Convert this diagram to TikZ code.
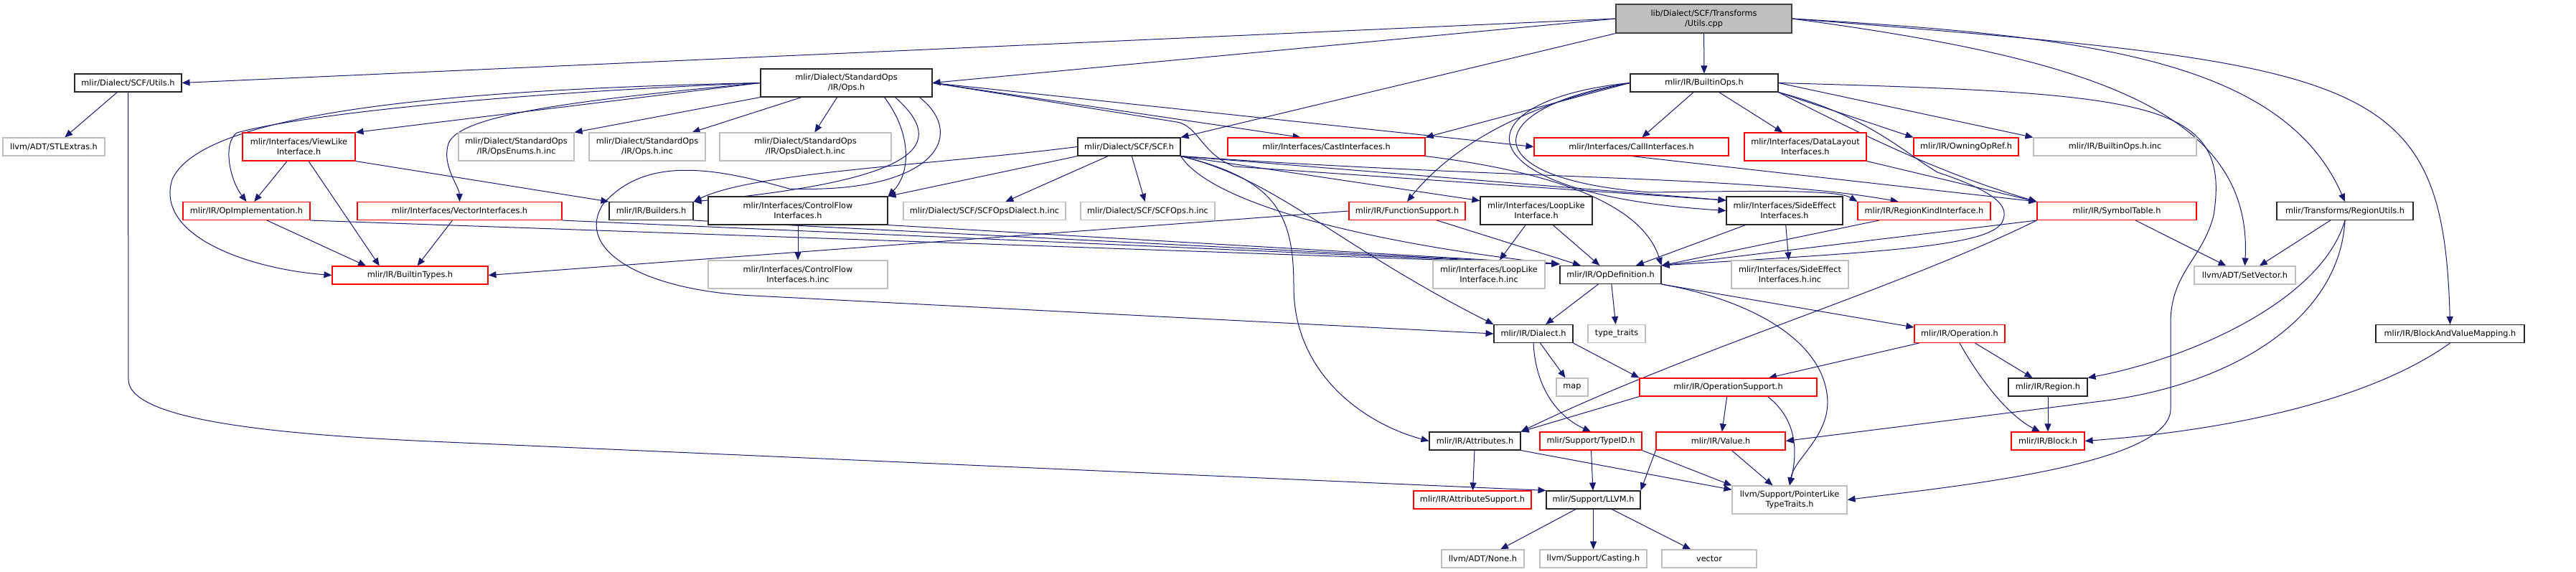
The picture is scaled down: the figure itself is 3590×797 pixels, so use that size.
\documentclass[tikz,border=0pt]{standalone}
\usepackage{fontspec}
\setmainfont{DejaVu Sans}
\usetikzlibrary{arrows.meta}
\definecolor{depblue}{RGB}{25,25,112}
\definecolor{extgray}{RGB}{191,191,191}
\pgfdeclarelayer{background}
\pgfsetlayers{background,main}

\begin{document}
\begin{tikzpicture}[x=1pt,y=-1pt,
every node/.style={rectangle,inner sep=0pt,align=center,fill=white,
  font=\fontsize{11.3}{14}\selectfont},
hdr/.style={draw=black!85,line width=1.1pt},
trunc/.style={draw=red,line width=1.1pt},
ext/.style={draw=extgray,line width=1.1pt},
rootfile/.style={draw=black!75,fill=extgray,line width=1.1pt},
one/.style={minimum height=25pt},
two/.style={minimum height=39pt},
wd/.style={minimum width=#1pt},
dep/.style={draw=depblue,line width=1pt,-{Triangle[length=11pt,width=9pt]}}]
\useasboundingbox (0,0) rectangle (3590,797);

\node[rootfile,wd=245,minimum height=40pt] (root) at (2374.5,26) {lib/Dialect/SCF/Transforms\\/Utils.cpp};

\node[hdr,one,wd=149] (scfutils) at (178.5,115.5) {mlir/Dialect/SCF/Utils.h};
\node[hdr,two,wd=239] (stdops) at (1179.5,115.5) {mlir/Dialect/StandardOps\\/IR/Ops.h};
\node[hdr,one,wd=206] (builtinops) at (2375,115.5) {mlir/IR/BuiltinOps.h};

\node[ext,one,wd=142] (stlextras) at (75,204.5) {llvm/ADT/STLExtras.h};
\node[trunc,two,wd=157] (viewlike) at (416.5,204.5) {mlir/Interfaces/ViewLike\\Interface.h};
\node[ext,two,wd=161] (opsenums) at (719.5,204.5) {mlir/Dialect/StandardOps\\/IR/OpsEnums.h.inc};
\node[ext,two,wd=162] (opsinc) at (902,204.5) {mlir/Dialect/StandardOps\\/IR/Ops.h.inc};
\node[ext,two,wd=239] (opsdialect) at (1122.5,204.5) {mlir/Dialect/StandardOps\\/IR/OpsDialect.h.inc};
\node[hdr,one,wd=143] (scf) at (1573.5,204.5) {mlir/Dialect/SCF/SCF.h};
\node[trunc,one,wd=275] (castif) at (1848.5,204.5) {mlir/Interfaces/CastInterfaces.h};
\node[trunc,one,wd=271] (callif) at (2273.5,204.5) {mlir/Interfaces/CallInterfaces.h};
\node[trunc,two,wd=170] (datalayout) at (2516,204.5) {mlir/Interfaces/DataLayout\\Interfaces.h};
\node[trunc,one,wd=146] (owningop) at (2740,204.5) {mlir/IR/OwningOpRef.h};
\node[ext,one,wd=227] (builtinopsinc) at (2947.5,204.5) {mlir/IR/BuiltinOps.h.inc};

\node[trunc,one,wd=177] (opimpl) at (343.5,294) {mlir/IR/OpImplementation.h};
\node[trunc,one,wd=285] (vectorif) at (640.5,294) {mlir/Interfaces/VectorInterfaces.h};
\node[hdr,one,wd=117] (builders) at (907.5,294) {mlir/IR/Builders.h};
\node[hdr,two,wd=250] (cflow) at (1112,293.5) {mlir/Interfaces/ControlFlow\\Interfaces.h};
\node[ext,one,wd=226] (scfdialect) at (1372,294) {mlir/Dialect/SCF/SCFOpsDialect.h.inc};
\node[ext,one,wd=187] (scfopsinc) at (1599.5,294) {mlir/Dialect/SCF/SCFOps.h.inc};
\node[trunc,one,wd=162] (funcsupport) at (1961,294) {mlir/IR/FunctionSupport.h};
\node[hdr,two,wd=156] (looplike) at (2141,293.5) {mlir/Interfaces/LoopLike\\Interface.h};
\node[hdr,two,wd=162] (sideeffect) at (2487,293.5) {mlir/Interfaces/SideEffect\\Interfaces.h};
\node[trunc,one,wd=185] (regionkind) at (2681.5,294) {mlir/IR/RegionKindInterface.h};
\node[trunc,one,wd=222] (symtable) at (2950,294) {mlir/IR/SymbolTable.h};
\node[hdr,one,wd=190] (regionutils) at (3268,294) {mlir/Transforms/RegionUtils.h};

\node[trunc,one,wd=217] (builtintypes) at (571.5,383.5) {mlir/IR/BuiltinTypes.h};
\node[ext,two,wd=250] (cflowinc) at (1112,382.5) {mlir/Interfaces/ControlFlow\\Interfaces.h.inc};
\node[ext,two,wd=156] (looplikeinc) at (2075,382.5) {mlir/Interfaces/LoopLike\\Interface.h.inc};
\node[hdr,one,wd=141] (opdef) at (2244.5,383) {mlir/IR/OpDefinition.h};
\node[ext,two,wd=163] (sideeffectinc) at (2494.5,382.5) {mlir/Interfaces/SideEffect\\Interfaces.h.inc};
\node[ext,one,wd=141] (setvector) at (3128.5,383.5) {llvm/ADT/SetVector.h};

\node[hdr,one,wd=110] (dialect) at (2137,465) {mlir/IR/Dialect.h};
\node[ext,one,wd=80] (typetraits) at (2253,465) {type\_traits};
\node[trunc,one,wd=126] (operation) at (2731,465) {mlir/IR/Operation.h};
\node[hdr,one,wd=207] (bvmapping) at (3414.5,465) {mlir/IR/BlockAndValueMapping.h};

\node[ext,one,wd=44] (map) at (2191,539.5) {map};
\node[trunc,one,wd=247] (opsupport) at (2408.5,539.5) {mlir/IR/OperationSupport.h};
\node[hdr,one,wd=110] (region) at (2854,539.5) {mlir/IR/Region.h};

\node[hdr,one,wd=127] (attributes) at (2055.5,614.5) {mlir/IR/Attributes.h};
\node[trunc,one,wd=142] (typeid) at (2217,614.5) {mlir/Support/TypeID.h};
\node[trunc,one,wd=180] (value) at (2398,614.5) {mlir/IR/Value.h};
\node[trunc,one,wd=102] (block) at (2854,614.5) {mlir/IR/Block.h};

\node[trunc,one,wd=164] (attrsupport) at (2052,696.5) {mlir/IR/AttributeSupport.h};
\node[hdr,one,wd=131] (llvm) at (2220.5,696.5) {mlir/Support/LLVM.h};
\node[ext,two,wd=160] (pointerlike) at (2494,696.5) {llvm/Support/PointerLike\\TypeTraits.h};

\node[ext,one,wd=115] (none) at (2066.5,778.5) {llvm/ADT/None.h};
\node[ext,one,wd=149] (casting) at (2220.5,778.5) {llvm/Support/Casting.h};
\node[ext,one,wd=132] (vector) at (2382,778.5) {vector};

\begin{pgfonlayer}{background}
\draw[dep] (root.west) -- (scfutils.east);
\draw[dep] (root.west) -- (stdops.east);
\draw[dep] (root.south west) -- (scf.north east);
\draw[dep] (root) -- (builtinops);
\draw[dep] (root.east) .. controls (2900,50) and (3180,80) .. (regionutils.north);
\draw[dep] (root.east) .. controls (2900,80) and (3140,150) .. (setvector.north);
\draw[dep] (root.east) .. controls (3300,90) and (3405,100) .. (bvmapping.north);

\draw[dep] (scfutils) -- (stlextras);
\draw[dep] (scfutils.south) -- (179,530) .. controls (182,585) and (380,605) .. (600,615) -- (llvm.north west);

\draw[dep] (stdops.west) -- (viewlike.north east);
\draw[dep] (stdops.west) .. controls (700,130) and (420,160) .. (330,185) .. controls (310,200) and (320,250) .. (opimpl.north);
\draw[dep] (stdops.west) .. controls (600,125) and (280,160) .. (240,250) .. controls (215,330) and (350,375) .. (builtintypes.west);
\draw[dep] (stdops.south west) -- (opsenums.north east);
\draw[dep] (stdops) -- (opsinc);
\draw[dep] (stdops) -- (opsdialect);
\draw[dep] (stdops.west) .. controls (800,140) and (640,160) .. (625,200) .. controls (615,230) and (640,260) .. (vectorif.north);
\draw[dep] ([xshift=68pt]stdops.south) .. controls (1320,200) and (1290,250) .. (builders.north east);
\draw[dep] ([xshift=53pt]stdops.south) .. controls (1270,185) and (1270,240) .. (cflow.north east);
\draw[dep] ([xshift=102pt]stdops.south) .. controls (1350,190) and (1300,270) .. (1100,263) .. controls (1000,235) and (900,215) .. (840,285) .. controls (800,350) and (900,405) .. (1050,412) -- (dialect.west);
\draw[dep] (stdops.east) -- (castif.160);
\draw[dep] (stdops.east) -- (callif.west);
\draw[dep] (stdops.east) -- (1640,170) .. controls (1670,175) and (1675,215) .. (1720,232) -- (sideeffect.170);

\draw[dep] (viewlike) -- (opimpl);
\draw[dep] (viewlike) -- (builtintypes.163);
\draw[dep] (viewlike.south east) -- (builders.north west);

\draw[dep] (opimpl) -- (builtintypes.168);
\draw[dep] (opimpl.south east) -- ([yshift=2pt]opdef.north west);
\draw[dep] (vectorif) -- (builtintypes);
\draw[dep] (vectorif.south east) -- ([yshift=2pt]opdef.north west);
\draw[dep] (builders.south east) -- ([yshift=2pt]opdef.north west);
\draw[dep] (cflow) -- (cflowinc);
\draw[dep] (cflow.south east) -- ([yshift=2pt]opdef.north west);

\draw[dep] (scf.west) .. controls (1300,230) and (1050,240) .. (builders.north east);
\draw[dep] (scf.south west) -- (cflow.north east);
\draw[dep] (scf) -- (scfdialect);
\draw[dep] (scf) -- (scfopsinc);
\draw[dep] (scf.south east) -- (looplike.170);
\draw[dep] (scf.south east) -- (sideeffect.170);
\draw[dep] (scf.south east) .. controls (2100,250) and (2450,245) .. (regionkind.160);
\draw[dep] (scf.south east) .. controls (1700,300) and (2000,350) .. ([yshift=2pt]opdef.north west);
\draw[dep] (scf.south east) .. controls (1780,250) and (1803,300) .. (1803,400) .. controls (1803,520) and (1900,590) .. (attributes.west);
\draw[dep] (scf.south east) .. controls (1780,250) and (1860,340) .. (dialect.north west);

\draw[dep] (castif.south east) .. controls (2250,250) and (2300,320) .. (opdef.north east);
\draw[dep] (callif.south) -- (symtable.north west);
\draw[dep] (datalayout.south east) -- (symtable.north west);

\draw[dep] (builtinops.west) -- (castif.north east);
\draw[dep] (builtinops) -- (callif);
\draw[dep] (builtinops) -- (datalayout);
\draw[dep] (builtinops.south east) -- (owningop.north west);
\draw[dep] (builtinops.east) -- (builtinopsinc.north west);
\draw[dep] (builtinops.west) .. controls (2100,150) and (2010,220) .. (funcsupport.north);
\draw[dep] (builtinops.west) .. controls (2030,140) and (2030,270) .. (sideeffect.west);
\draw[dep] (builtinops.west) .. controls (2060,150) and (2050,250) .. (2300,268) .. controls (2450,266) and (2560,264) .. (regionkind.north west);
\draw[dep] (builtinops.south east) .. controls (2600,160) and (2650,210) .. (2700,240) .. controls (2790,270) and (2800,290) .. (2790,310) .. controls (2770,345) and (2600,352) .. (opdef.north east);
\draw[dep] (builtinops.south east) .. controls (2600,190) and (2700,240) .. (symtable.north west);
\draw[dep] (builtinops.east) .. controls (3000,130) and (3110,140) .. (3085,300) .. controls (3070,360) and (3025,380) .. (3025,450) -- (3025,570) .. controls (3025,650) and (2700,680) .. (pointerlike.east);

\draw[dep] (funcsupport.west) -- (builtintypes.east);
\draw[dep] (funcsupport) -- (opdef);
\draw[dep] (looplike) -- (looplikeinc);
\draw[dep] (looplike) -- (opdef);
\draw[dep] (sideeffect) -- (sideeffectinc);
\draw[dep] (sideeffect) -- (opdef);
\draw[dep] (regionkind) -- (opdef.north east);
\draw[dep] (symtable.south west) -- (opdef.north east);
\draw[dep] (symtable) -- (setvector);
\draw[dep] (symtable.south west) .. controls (2650,400) and (2350,490) .. (attributes.north east);

\draw[dep] (opdef) -- (dialect);
\draw[dep] (opdef) -- (typetraits);
\draw[dep] (opdef.south east) -- (operation.172);
\draw[dep] (opdef.south east) .. controls (2450,420) and (2545,480) .. (2547,560) .. controls (2547,610) and (2500,640) .. (pointerlike.north);

\draw[dep] (dialect) -- (map);
\draw[dep] (dialect.south east) -- (opsupport.north west);
\draw[dep] (dialect.south) .. controls (2140,540) and (2170,580) .. (typeid.north);

\draw[dep] (operation) -- (opsupport);
\draw[dep] (operation) -- (region);
\draw[dep] (operation.south) .. controls (2760,530) and (2800,580) .. (block.130);
\draw[dep] (region) -- (block);
\draw[dep] (bvmapping.south) .. controls (3300,560) and (3100,600) .. (block.east);

\draw[dep] (regionutils) -- (setvector);
\draw[dep] (regionutils.south) .. controls (3235,420) and (3050,500) .. (region.north east);
\draw[dep] (regionutils.south) .. controls (3260,450) and (3100,540) .. (2920,560) -- (value.east);

\draw[dep] (opsupport) -- (value);
\draw[dep] ([xshift=55pt]opsupport.south) .. controls (2505,585) and (2505,630) .. (pointerlike.north);
\draw[dep] (opsupport.south west) -- (attributes.north east);

\draw[dep] (typeid) -- (llvm);
\draw[dep] (typeid.south east) -- (pointerlike.north west);
\draw[dep] (value) -- (pointerlike);
\draw[dep] (value.south west) -- (llvm.north east);
\draw[dep] (attributes) -- (attrsupport);
\draw[dep] (attributes.south east) -- (pointerlike.170);

\draw[dep] (llvm) -- (none);
\draw[dep] (llvm) -- (casting);
\draw[dep] (llvm) -- (vector);
\end{pgfonlayer}
\end{tikzpicture}
\end{document}
